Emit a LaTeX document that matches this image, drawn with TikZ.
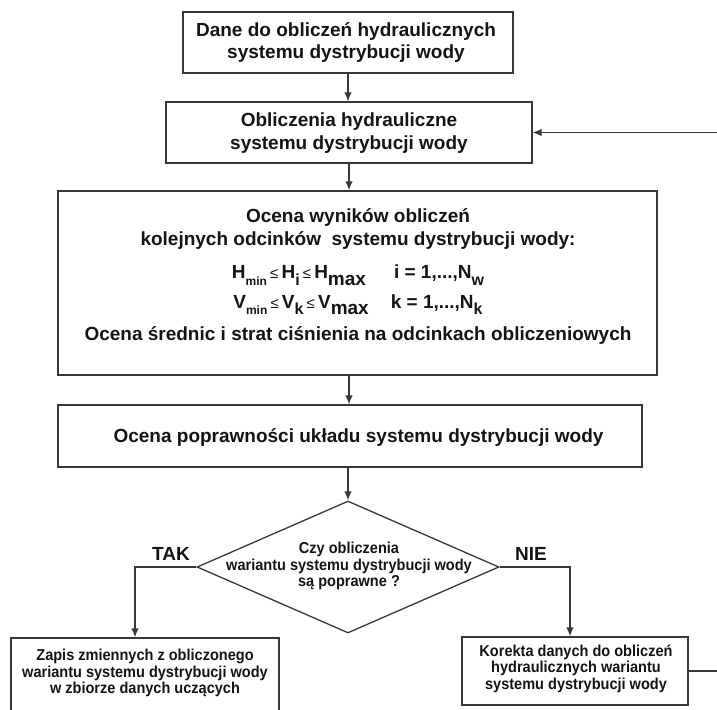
\documentclass[tikz,border=0pt]{standalone}
\usepackage{fontspec}
\setmainfont{Liberation Sans}
\newfontfamily\narrowfont[FakeStretch=0.92]{Liberation Sans}
\usetikzlibrary{shapes.geometric,arrows.meta}
% lowered subscript of a given size
\newcommand{\lowsub}[2]{\raisebox{-0.33em}{\fontsize{#1}{#1}\selectfont #2}}
% relation sign in lighter weight
\newcommand{\leqsign}{\,{\mdseries\fontsize{15}{15}\selectfont ≤}\,}
\begin{document}
\begin{tikzpicture}[x=1pt,y=-1pt,
  line/.style={draw=black!78, line width=1.3pt},
  box/.style={line, rectangle, inner sep=0pt},
  decision/.style={line, diamond, inner sep=0pt},
  txt/.style={inner sep=0pt, align=center, font=\bfseries\fontsize{19}{22.5}\selectfont, text=black!92},
  small/.style={inner sep=0pt, align=center, font=\narrowfont\bfseries\fontsize{15.8}{16.6}\selectfont, text=black!92},
  flow/.style={line, -{Latex[length=9pt,width=7.5pt]}},
]
\clip (0,0) rectangle (717,709);

% boxes
\node[box, minimum width=330pt, minimum height=61pt] (box1) at (348,42.5) {};
\node[txt] (box1text) at (346,42.5) {Dane do obliczeń hydraulicznych\\systemu dystrybucji wody};

\node[box, minimum width=366pt, minimum height=61pt] (box2) at (349,132.5) {};
\node[txt] (box2text) at (349,133) {Obliczenia hydrauliczne\\systemu dystrybucji wody};

\node[box, minimum width=599pt, minimum height=184pt] (box3) at (357.5,283) {};
\node[txt] (box3text) at (358,277) {Ocena wyników obliczeń\\
  kolejnych odcinków\ \ systemu dystrybucji wody:\\[11pt]
  H\lowsub{12}{min}\leqsign H\lowsub{16}{i}\leqsign H\lowsub{19}{max}\hspace{28pt}i = 1,...,N\lowsub{16}{w}\\[7pt]
  V\lowsub{12}{min}\leqsign V\lowsub{16}{k}\leqsign V\lowsub{19}{max}\hspace{22pt}k = 1,...,N\lowsub{16}{k}\\[10pt]
  Ocena średnic i strat ciśnienia na odcinkach obliczeniowych};

\node[box, minimum width=584pt, minimum height=62pt] (box4) at (350,436) {};
\node[txt] (box4text) at (358.5,437) {Ocena poprawności układu systemu dystrybucji wody};

% decision
\node[decision, minimum width=302pt, minimum height=132pt] (dec) at (348,567) {};
\node[small] (dectext) at (349,566) {Czy obliczenia\\wariantu systemu dystrybucji wody\\są poprawne ?};

\node[txt] (tak) at (171,554) {TAK};
\node[txt] (nie) at (531,554) {NIE};

% result boxes
\node[box, minimum width=268pt, minimum height=76pt] (lbox) at (145,676) {};
\node[small] (lboxtext) at (145,673) {Zapis zmiennych z obliczonego\\wariantu systemu dystrybucji wody\\w zbiorze danych uczących};

\node[box, minimum width=226pt, minimum height=68pt] (rbox) at (575,671) {};
\node[small] (rboxtext) at (576,668.5) {Korekta danych do obliczeń\\hydraulicznych wariantu\\systemu dystrybucji wody};

% connectors
\draw[flow] (box1.south) -- (box1.south |- box2.north);
\draw[flow] (box2.south) -- (box2.south |- box3.north);
\draw[flow] (box3.south -| box2.south) -- (box4.north -| box2.south);
\draw[flow] (box4.south -| dec.north) -- (dec.north);
\draw[flow] (dec.west) -| ([xshift=-10pt]lbox.north);
\draw[flow] (dec.east) -| ([xshift=-5pt]rbox.north);
\coordinate (loopR) at (745,671);
\draw[flow] (rbox.east) -- (loopR) |- (box2.east);
\end{tikzpicture}
\end{document}
